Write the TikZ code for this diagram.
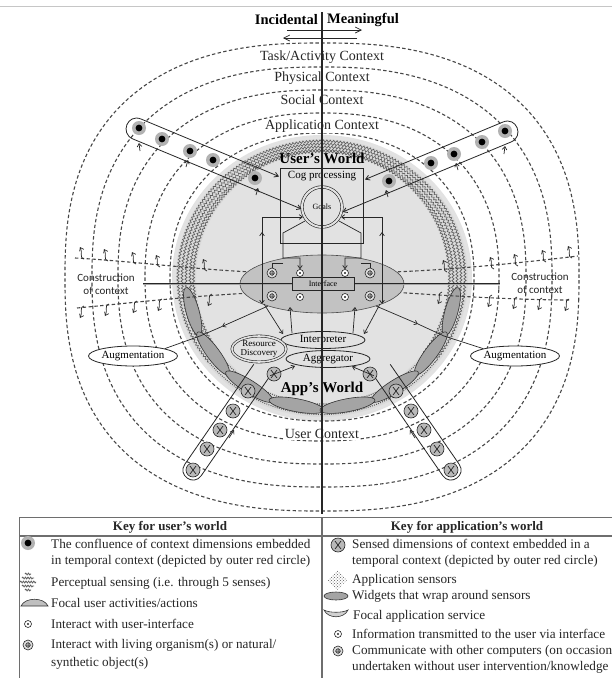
\documentclass[tikz,border=0pt]{standalone}
\usepackage{fontspec}
\setmainfont{Liberation Serif}
\newfontfamily\labelsans{Carlito}
\usetikzlibrary{arrows.meta,decorations.pathmorphing,calc,patterns,shapes.geometric}

\definecolor{ink}{HTML}{262626}
\definecolor{dashgrey}{HTML}{474747}
\definecolor{worldgrey}{HTML}{E2E2E2}
\definecolor{bandgrey}{HTML}{DADADA}
\definecolor{waveline}{HTML}{5E5E5E}
\definecolor{lensgrey}{HTML}{A4A4A4}
\definecolor{ifacegrey}{HTML}{C2C2C2}
\definecolor{rulegrey}{HTML}{6E6E6E}

\tikzset{
  ctx/.style={draw=dashgrey, line width=1.1pt, dash pattern=on 3.4pt off 2.4pt},
  ctxlabel/.style={font=\fontsize{14}{16}\selectfont, fill=white, inner sep=0.8pt, text=ink},
  conn/.style={draw=ink, line width=0.7pt},
  endtip/.style={-{Straight Barb[length=3.2pt,width=4.6pt]}},
  tube/.style={draw=ink, line width=0.8pt},
  confdot/.style={circle, fill=gray!60, minimum size=14pt, inner sep=0pt,
    path picture={\fill[black] (path picture bounding box.center) circle (3.4pt);}},
  sensedot/.style={circle, draw=ink, line width=0.6pt, fill=gray!55, minimum size=14pt, inner sep=0pt,
    path picture={\draw[ink, line width=0.7pt]
      ([shift={(-3pt,-4pt)}]path picture bounding box.center) -- ([shift={(3pt,4pt)}]path picture bounding box.center)
      ([shift={(-3pt,4pt)}]path picture bounding box.center) -- ([shift={(3pt,-4pt)}]path picture bounding box.center);}},
  uidot/.style={circle, draw=ink, line width=0.6pt, fill=white, minimum size=7pt, inner sep=0pt,
    path picture={\fill[ink] (path picture bounding box.center) circle (1.1pt);}},
  orgdot/.style={circle, draw=ink, line width=0.6pt, fill=gray!25, minimum size=10pt, inner sep=0pt,
    path picture={\draw[ink, line width=0.5pt] (path picture bounding box.center) circle (2.2pt)
      ([shift={(-3pt,0pt)}]path picture bounding box.center) -- ([shift={(3pt,0pt)}]path picture bounding box.center)
      ([shift={(0pt,-3pt)}]path picture bounding box.center) -- ([shift={(0pt,3pt)}]path picture bounding box.center);}},
  lens/.style={ellipse, draw=gray!40!black, line width=0.6pt, fill=lensgrey, inner sep=0pt, minimum height=13pt},
  procell/.style={ellipse, draw=ink, line width=0.8pt, fill=worldgrey, inner sep=0pt, font=\fontsize{11}{12}\selectfont},
  keytext/.style={anchor=west, font=\fontsize{13.2}{15}\selectfont, text=ink, inner sep=0pt},
  keyhead/.style={font=\bfseries\fontsize{13}{15}\selectfont, text=ink, inner sep=0pt},
  wavy/.style={draw=waveline, line width=0.65pt, decorate, decoration={snake, segment length=3.4pt, amplitude=1.1pt}},
  dotty/.style={draw=gray!70!black, line width=1.1pt, dash pattern=on 0.9pt off 1.3pt},
  conslabel/.style={font=\labelsans\fontsize{11}{13}\selectfont, align=center, text=ink, inner sep=0pt},
  upsquig/.pic={\draw[conn, endtip] (4,1) .. controls (-1,0) and (3,-5) .. (0,-11);},
  downsquig/.pic={\draw[conn, endtip] (4,-1) .. controls (-1,0) and (3,5) .. (0,11);},
}

% a context ring: rounded-square outline with radii #1, #2 and exponent #3 (= 2/n)
\newcommand\ctxring[3]{%
  \draw[ctx] plot[smooth cycle, domain=1:359, samples=180]
    ({322+#1*sign(cos(\x))*abs(cos(\x))^#3},{277+#2*sign(sin(\x))*abs(sin(\x))^#3});}

\begin{document}
\begin{tikzpicture}[x=1pt,y=-1pt]
\useasboundingbox (0,0) rectangle (612,678);
\fill[white] (0,0) rectangle (612,678);
\draw[gray!45, line width=1pt] (0,6) -- (612,6);

% ---------- heading ----------
\node[anchor=east, font=\bfseries\fontsize{14.5}{16}\selectfont, inner sep=0pt] (incidental) at (318,20) {Incidental};
\node[anchor=west, font=\bfseries\fontsize{14.5}{16}\selectfont, inner sep=0pt] (meaningful) at (327,20) {Meaningful};
\coordinate (hdA) at (287,30); \coordinate (hdB) at (362,30);
\coordinate (hdC) at (357,38); \coordinate (hdD) at (283,38);
\draw[conn, -{Straight Barb[length=6pt,width=6pt]}] (hdA) -- (hdB);
\draw[conn, -{Straight Barb[length=6pt,width=6pt]}] (hdC) -- (hdD);

% ---------- the user's world region ----------
\fill[worldgrey] (322,278) ellipse [x radius=150, y radius=143];
\fill[bandgrey, even odd rule] (322,278) ellipse [x radius=146, y radius=139]
                               (322,278) ellipse [x radius=126, y radius=125];
% perceptual sensing band (upper part)
\foreach \rx/\ry in {143.5/136.5,139.5/133.5,135.5/130.5,131.5/127.5,128/126}{
  \draw[wavy] ({322+\rx*cos(142)},{278+\ry*sin(142)}) arc[start angle=142, end angle=398, x radius=\rx, y radius=\ry];
}
% application sensors band (lower part)
\foreach \rx/\ry in {143.5/136.5,140/133.5,136.5/131,133/128.5,129.5/126}{
  \draw[dotty] ({322+\rx*cos(38)},{278+\ry*sin(38)}) arc[start angle=38, end angle=142, x radius=\rx, y radius=\ry];
}

% ---------- context rings ----------
\ctxring{257}{234}{0.8}
\ctxring{230}{210}{0.816}
\ctxring{204}{187}{0.833}
\ctxring{177}{164}{0.87}
\ctxring{152}{144}{0.909}

% ---------- focal activities / services along the band ----------
\foreach \a/\b [count=\i] in {175/155,155/134,134/112,112/90,5/25,25/46,46/68,68/90}{
  \path let \p1=({322+136*cos(\a)},{278+132*sin(\a)}),
            \p2=({322+136*cos(\b)},{278+132*sin(\b)}),
            \n1={atan2(\y2-\y1,\x2-\x1)},
            \n2={veclen(\x2-\x1,\y2-\y1)}
        in node[lens, minimum width=\n2+4, rotate=\n1] (lens\i) at ($(\p1)!0.5!(\p2)$) {};
}

% ---------- construction of context ----------
\draw[ctx] (75,258) .. controls (130,261) and (190,269) .. (252,272);
\draw[ctx] (77,308) .. controls (130,303) and (190,296) .. (252,293);
\draw[ctx] (392,272) .. controls (450,270) and (520,263) .. (578,256);
\draw[ctx] (392,292) .. controls (450,296) and (520,300) .. (570,300);
\foreach \px/\py in {80/258,104/260,132/263,156/266,203/270,443/271,490/268,514/265,542/261,568/257}
  \pic at (\px,\py) {upsquig};
\foreach \px/\py in {80/307,105/305,133/302,158/300,208/295,438/293,488/296,513/298,538/299,565/300}
  \pic at (\px,\py) {downsquig};
\node[conslabel] (consL) at (106,284) {Construction\\of context};
\node[conslabel] (consR) at (540,283) {Construction\\of context};

% ---------- interface ----------
\node[ellipse, fill=ifacegrey, draw=gray!60!black, line width=0.6pt, minimum width=164pt, minimum height=58pt] (iface) at (322,284) {};
\draw[draw=gray!30!black, line width=2.4pt] (143,284) -- (500,284);
\draw[draw=gray!70, line width=0.8pt] (143,284) -- (500,284);
\node[draw=ink, line width=0.6pt, fill=gray!50, minimum width=62pt, minimum height=13pt, inner sep=0pt,
      font=\fontsize{8}{9}\selectfont] (ifbox) at (323,284) {Interface};
\node[orgdot] (o1) at (272,273) {};
\node[uidot]  (u1) at (300,273) {};
\node[uidot]  (u2) at (345,273) {};
\node[orgdot] (o2) at (370,273) {};
\node[orgdot] (o3) at (272,296) {};
\node[uidot]  (u3) at (300,297) {};
\node[uidot]  (u4) at (345,297) {};
\node[orgdot] (o4) at (370,296) {};

% ---------- cognitive processing ----------
\node[draw=ink, line width=0.7pt, minimum width=83pt, minimum height=75pt, inner sep=0pt, anchor=north west] (cog) at (280,168) {};
\node[font=\fontsize{11}{12}\selectfont, inner sep=0pt] (coglabel) at (322,176) {Cog processing};
\node[circle, draw=ink, line width=0.6pt, double=worldgrey, double distance=2pt, fill=worldgrey,
      minimum size=40pt, inner sep=0pt, font=\fontsize{8}{9}\selectfont] (goals) at (322,207) {Goals};
\node[font=\bfseries\fontsize{15}{17}\selectfont, inner sep=0pt] (userworld) at (322,158) {User's World};

% connectors between goals and interface
\draw[conn, endtip] (262,300) -- (262,217) -- (303,217);
\draw[conn, endtip] (262,246) -- (262,232);
\draw[conn, endtip] (262,296) -- (262,304);
\draw[conn, endtip] (382,300) -- (382,217) -- (341,217);
\draw[conn, endtip] (382,246) -- (382,232);
\draw[conn, endtip] (382,296) -- (382,304);
\draw[conn, endtip] (305,221) -- (283,233) -- (283,258) -- (300,258) -- (u1);
\draw[conn, endtip] (339,221) -- (361,233) -- (361,258) -- (345,258) -- (u2);
\draw[conn] (283,263) -- (272,263) -- (o1);
\draw[conn] (361,263) -- (370,263) -- (o2);

% ---------- user tubes of context dimensions ----------
\draw[tube, {Straight Barb[length=4pt,width=5pt]}-{Straight Barb[length=4pt,width=5pt]}]
  (279,176.5) -- (141,119) .. controls (127.5,113.4) and (119.5,133.4) .. (133,139) -- (301.5,209);
\draw[tube, {Straight Barb[length=4pt,width=5pt]}-{Straight Barb[length=4pt,width=5pt]}]
  (365,179.5) -- (503,122) .. controls (516.5,116.4) and (524.5,136.4) .. (511,142) -- (342.5,212);
\draw[conn, endtip] (140,151) -- (139,143);
\draw[conn, endtip] (186,167) -- (188,160);
\draw[conn, endtip] (256,195) -- (258,188);
\draw[conn, endtip] (504,154) -- (505,146);
\draw[conn, endtip] (458,170) -- (456,163);
\draw[conn, endtip] (388,197) -- (386,190);
\foreach \px/\py [count=\i] in {139/128,162/139,190/151,213/160,255/178}{
  \node[confdot] (cl\i) at (\px,\py) {};
  \node[confdot] (cr\i) at ({644-\px},\py+3) {};
}

% ---------- app tubes of sensed dimensions ----------
\draw[tube] (253.8,364.3) -- (184.8,464.3) .. controls (177.2,475.2) and (193.6,486.6) .. (201.2,475.7) -- (270.2,375.7);
\draw[tube] (390.2,364.3) -- (459.2,464.3) .. controls (466.8,475.2) and (450.4,486.6) .. (442.8,475.7) -- (373.8,375.7);
\foreach \px/\py [count=\i] in {193/470,207/449,220/430,233/411,248/391,274/374}{
  \node[sensedot] (sl\i) at (\px,\py) {};
  \node[sensedot] (sr\i) at ({644-\px},\py) {};
}
\draw[conn, endtip] (229,438) -- (234,430);
\draw[conn, endtip] (415,438) -- (410,430);

% ---------- application side ----------
\node[procell, minimum width=84pt, minimum height=17pt] (interp) at (323,340) {Interpreter};
\node[procell, minimum width=84pt, minimum height=17pt] (aggr) at (328,359) {Aggregator};
\node[ellipse, draw=ink, line width=0.6pt, double=worldgrey, double distance=1.6pt, fill=worldgrey,
      minimum width=54pt, minimum height=26pt, inner sep=0pt, align=center,
      font=\fontsize{9}{9}\selectfont] (resdisc) at (259,349) {Resource\\Discovery};
\node[font=\bfseries\fontsize{15}{17}\selectfont, inner sep=0pt] (appworld) at (322,389) {App's World};

\draw[conn, endtip] (264,304) -- (283,334);
\draw[conn, endtip] (292,333) -- (290,307);
\draw[conn, endtip] (353,333) -- (355,307);
\draw[conn, endtip] (380,304) -- (364,334);
\draw[conn, endtip] (270.2,375.7) -- (295,366);
\draw[conn, endtip] (373.8,375.7) -- (352,366.5);

% ---------- augmentation ----------
\node[ellipse, draw=ink, line width=0.8pt, fill=white, minimum width=88pt, minimum height=20pt, inner sep=0pt,
      font=\fontsize{11}{12}\selectfont] (augL) at (133,356) {Augmentation};
\node[ellipse, draw=ink, line width=0.8pt, fill=white, minimum width=86pt, minimum height=20pt, inner sep=0pt,
      font=\fontsize{11}{12}\selectfont] (augR) at (515,356) {Augmentation};
\coordinate (jL) at (200,336); \coordinate (jR) at (444,336);
\draw[conn] (augL.north east) -- (jL);
\draw[conn, endtip] (268,306) -- (222,326.5);
\draw[conn] (222,326.5) -- (jL);
\draw[conn] (augR.north west) -- (jR);
\draw[conn, endtip] (376,306) -- (418,324);
\draw[conn] (418,324) -- (jR);

% ---------- context labels ----------
\node[ctxlabel] (taskctx) at (322,57) {Task/Activity Context};
\node[ctxlabel] (physctx) at (322,78) {Physical Context};
\node[ctxlabel] (socctx) at (322,100) {Social Context};
\node[ctxlabel] (appctx) at (322,126) {Application Context};
\node[ctxlabel] (userctx) at (322,434) {User Context};

% the dividing axis
\draw[ink, line width=1.2pt] (322,12) -- (322,514);

% ---------- key ----------
\draw[rulegrey, line width=1.2pt] (19.5,517.5) rectangle (640,700);
\draw[rulegrey, line width=1.2pt] (19.5,536) -- (640,536);
\draw[rulegrey, line width=1.2pt] (322,517.5) -- (322,700);
\node[keyhead] (keyuser) at (170,527) {Key for user's world};
\node[keyhead] (keyapp) at (467,527) {Key for application's world};

\node[confdot] (k1) at (28,543) {};
\foreach \yy/\hw in {574/3,578/6,582/8,586/6,590/3}
  \draw[waveline, line width=0.8pt, decorate, decoration={snake, segment length=2.6pt, amplitude=0.9pt}] ({28-\hw},\yy) -- ({28+\hw},\yy);
\draw[draw=gray!40!black, fill=lensgrey!70, line width=0.6pt] (21,606) .. controls (25,597) and (44,597) .. (48,606) -- cycle;
\node[uidot] (k4) at (28,624) {};
\node[orgdot] (k5) at (28,645) {};
\node[keytext] at (51,544) {The confluence of context dimensions embedded};
\node[keytext] at (51,561) {in temporal context (depicted by outer red circle)};
\node[keytext] at (51,583) {Perceptual sensing (i.e. through 5 senses)};
\node[keytext] at (51,603) {Focal user activities/actions};
\node[keytext] at (51,624) {Interact with user-interface};
\node[keytext] at (51,645) {Interact with living organism(s) or natural/};
\node[keytext] at (51,663) {synthetic object(s)};

\node[sensedot] (k6) at (338,545) {};
\fill[pattern=crosshatch dots, pattern color=gray!70!black] (337,570) -- (347,580) -- (337,590) -- (327,580) -- cycle;
\node[ellipse, fill=lensgrey, draw=gray!40!black, line width=0.6pt, minimum width=24pt, minimum height=8pt, inner sep=0pt] (k8) at (336,596) {};
\draw[draw=gray!40!black, fill=lensgrey!50, line width=0.6pt] (324,610) .. controls (328,619) and (344,619) .. (348,610) .. controls (343,613) and (329,613) .. (324,610) -- cycle;
\node[uidot] (k10) at (338,634) {};
\node[orgdot] (k11) at (338,651) {};
\node[keytext] at (352,544) {Sensed dimensions of context embedded in a};
\node[keytext] at (352,561) {temporal context (depicted by outer red circle)};
\node[keytext] at (352,580) {Application sensors};
\node[keytext] at (352,596) {Widgets that wrap around sensors};
\node[keytext] at (353,616) {Focal application service};
\node[keytext] at (352,634) {Information transmitted to the user via interface};
\node[keytext] at (352,651) {Communicate with other computers (on occasion};
\node[keytext] at (352,667) {undertaken without user intervention/knowledge};
\end{tikzpicture}
\end{document}
